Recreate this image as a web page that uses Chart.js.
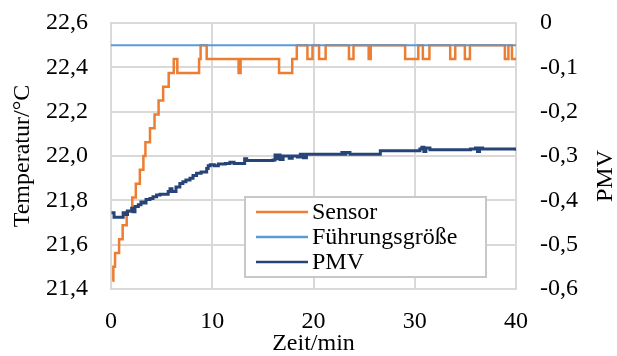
<!DOCTYPE html>
<html>
<head>
<meta charset="utf-8">
<script src="https://cdn.jsdelivr.net/npm/chart.js@4"></script>
<style>
  body { margin: 0; background: #fff; }
</style>
</head>
<body>
<canvas id="chart" width="617" height="356"></canvas>
<script>
// Sensor: times where the reading changes (min) and the new value (°C)
const sensorTime = [0.15, 0.23, 0.4, 0.8, 1.15, 1.55, 2.1, 2.45, 2.85, 3.2, 3.4, 3.85, 4.3, 4.7, 5.15, 5.7, 6.2, 6.55,
  8.7, 8.85, 9.45, 12.6, 12.8, 16.6, 17.9, 18.35, 19.4, 19.9, 20.55, 21.2, 23.5, 23.95, 25.45, 25.65,
  29.05, 30.35, 30.8, 31.45, 33.5, 34.0, 34.95, 35.45, 38.9, 39.25, 39.6, 40];
const sensorTemp = [21.4375, 21.5, 21.5625, 21.625, 21.6875, 21.75, 21.8125, 21.875, 21.9375, 22.0, 22.0625, 22.125, 22.1875, 22.25, 22.3125, 22.375, 22.4375, 22.375,
  22.4375, 22.5, 22.4375, 22.375, 22.4375, 22.375, 22.4375, 22.5, 22.4375, 22.5, 22.4375, 22.5, 22.4375, 22.5, 22.4375, 22.5,
  22.4375, 22.5, 22.4375, 22.5, 22.4375, 22.5, 22.4375, 22.5, 22.4375, 22.5, 22.4375, 22.4375];

// Führungsgröße (setpoint)
const setpointTime = [0, 40];
const setpointTemp = [22.5, 22.5];

// PMV
const pmvTime = [0.05, 0.3, 1.2, 1.48, 1.63, 2.04, 2.17, 2.37, 2.7, 2.96, 3.19, 3.46, 3.85, 4.15, 4.5, 4.85, 5.65, 5.83, 6.02, 6.42,
  6.8, 7.1, 7.4, 7.8, 8.1, 8.45, 8.9, 9.45, 9.6, 9.8, 10.2, 10.6, 11.3, 11.75, 12.15, 13.05, 13.2, 13.4, 16.0, 16.2, 16.3, 16.5,
  16.7, 17.0, 17.6, 17.9, 18.4, 18.7, 19.0, 19.3, 22.6, 22.8, 23.0, 23.2, 23.6, 26.6, 30.5, 30.7, 30.9, 31.1, 31.5, 35.5, 36.0,
  36.2, 36.4, 36.7, 40];
const pmvValue = [-0.428, -0.438, -0.428, -0.432, -0.424, -0.418, -0.426, -0.414, -0.41, -0.404, -0.406, -0.398, -0.396, -0.392, -0.388, -0.386, -0.38, -0.374, -0.38, -0.37,
  -0.362, -0.358, -0.354, -0.35, -0.344, -0.339, -0.336, -0.328, -0.322, -0.32, -0.322, -0.318, -0.317, -0.314, -0.317, -0.317, -0.306, -0.31, -0.309, -0.298, -0.306, -0.298,
  -0.308, -0.3, -0.305, -0.3, -0.302, -0.296, -0.304, -0.296, -0.296, -0.292, -0.296, -0.292, -0.296, -0.288, -0.284, -0.28, -0.29, -0.282, -0.286, -0.284, -0.282,
  -0.29, -0.282, -0.284, -0.288];

// axis ticks
const timeTicks = [0, 10, 20, 30, 40];
const timeTickLabels = ["0", "10", "20", "30", "40"];
const tempTicks = [21.4, 21.6, 21.8, 22.0, 22.2, 22.4, 22.6];
const tempTickLabels = ["21,4", "21,6", "21,8", "22,0", "22,2", "22,4", "22,6"];
const pmvTicks = [-0.6, -0.5, -0.4, -0.3, -0.2, -0.1, 0];
const pmvTickLabels = ["-0,6", "-0,5", "-0,4", "-0,3", "-0,2", "-0,1", "0"];

const toPoints = (xs, ys) => xs.map((x, i) => ({ x: x, y: ys[i] }));

const serif = "'Liberation Serif', 'Times New Roman', serif";
const fontSize = 24;
const gridColor = "#D9D9D9";

// drop the extra room Chart.js keeps for half tick labels
const noScalePadding = (s) => {
  s.paddingTop = 0;
  s.paddingBottom = 0;
  s.paddingLeft = 0;
  s.paddingRight = 0;
};

// legend drawn inside the plot, like the original
const boxLegend = {
  id: "boxLegend",
  afterDatasetsDraw(chart) {
    const ctx = chart.ctx;
    ctx.save();
    ctx.fillStyle = "#fff";
    ctx.strokeStyle = "#C8C8C8";
    ctx.lineWidth = 2;
    ctx.fillRect(245, 197, 241, 80);
    ctx.strokeRect(245, 197, 241, 80);
    ctx.font = fontSize + "px " + serif;
    ctx.textBaseline = "middle";
    ctx.textAlign = "left";
    chart.data.datasets.forEach(function (ds, i) {
      const y = 212 + i * 25;
      ctx.strokeStyle = ds.borderColor;
      ctx.lineWidth = 2.5;
      ctx.beginPath();
      ctx.moveTo(256, y);
      ctx.lineTo(308, y);
      ctx.stroke();
      ctx.fillStyle = "#000";
      ctx.fillText(ds.label, 312, y + 1);
    });
    ctx.restore();
  },
  afterDraw(chart) {
    // right axis title reads bottom to top
    const ctx = chart.ctx;
    ctx.save();
    ctx.translate(606, 176);
    ctx.rotate(-Math.PI / 2);
    ctx.font = fontSize + "px " + serif;
    ctx.fillStyle = "#000";
    ctx.textAlign = "center";
    ctx.textBaseline = "middle";
    ctx.fillText("PMV", 0, 0);
    ctx.restore();
  },
};

const ctx = document.getElementById("chart").getContext("2d");

const chart = new Chart(ctx, {
  type: "line",
  data: {
    datasets: [
      {
        label: "Sensor",
        data: toPoints(sensorTime, sensorTemp),
        borderColor: "#ED7D31",
        borderWidth: 2.5,
        stepped: true,
        yAxisID: "y",
        order: 3,
      },
      {
        label: "Führungsgröße",
        data: toPoints(setpointTime, setpointTemp),
        borderColor: "#5B9BD5",
        borderWidth: 2,
        yAxisID: "y",
        order: 2,
      },
      {
        label: "PMV",
        data: toPoints(pmvTime, pmvValue),
        borderColor: "#264478",
        borderWidth: 3,
        stepped: true,
        yAxisID: "y1",
        order: 1,
      },
    ],
  },
  options: {
    responsive: false,
    animation: false,
    devicePixelRatio: 1,
    layout: { padding: { top: 23, left: 0, right: 0, bottom: 0 } },
    elements: { point: { radius: 0 }, line: { tension: 0, fill: false } },
    plugins: { legend: { display: false }, tooltip: { enabled: false } },
    scales: {
      x: {
        type: "linear",
        min: 0,
        max: 40,
        afterBuildTicks: (s) => { s.ticks = timeTicks.map((v) => ({ value: v })); },
        afterFit: (s) => { s.height = 67; noScalePadding(s); },
        ticks: {
          padding: 18,
          color: "#000",
          font: { family: serif, size: fontSize },
          maxRotation: 0,
          callback: (v, i) => timeTickLabels[i],
        },
        grid: { color: gridColor, lineWidth: 2, drawTicks: false },
        border: { color: gridColor, width: 2 },
        title: {
          display: true,
          text: "Zeit/min",
          color: "#000",
          font: { family: serif, size: fontSize, lineHeight: 1 },
          padding: { top: 0, bottom: 0 },
        },
      },
      y: {
        position: "left",
        min: 21.4,
        max: 22.6,
        afterBuildTicks: (s) => { s.ticks = tempTicks.map((v) => ({ value: v })); },
        afterFit: (s) => { s.width = 111; noScalePadding(s); },
        ticks: {
          padding: 23,
          color: "#000",
          font: { family: serif, size: fontSize },
          callback: (v, i) => tempTickLabels[i],
        },
        grid: { color: gridColor, lineWidth: 2, drawTicks: false },
        border: { color: gridColor, width: 2 },
        title: {
          display: true,
          text: "Temperatur/°C",
          color: "#000",
          font: { family: serif, size: fontSize },
          padding: { top: 8, bottom: 0 },
        },
      },
      y1: {
        position: "right",
        min: -0.6,
        max: 0,
        afterBuildTicks: (s) => { s.ticks = pmvTicks.map((v) => ({ value: v })); },
        afterFit: (s) => { s.width = 101; noScalePadding(s); },
        ticks: {
          padding: 24,
          color: "#000",
          font: { family: serif, size: fontSize },
          callback: (v, i) => pmvTickLabels[i],
        },
        grid: { display: false, drawTicks: false },
        border: { color: gridColor, width: 2 },
      },
    },
  },
  plugins: [boxLegend],
});
</script>
</body>
</html>
